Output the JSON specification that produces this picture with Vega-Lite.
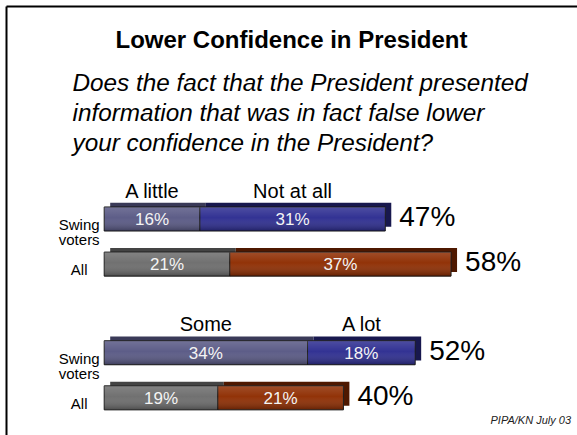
{
  "$schema": "https://vega.github.io/schema/vega-lite/v6.json",
  "width": 577,
  "height": 435,
  "autosize": {"type": "fit", "contains": "padding"},
  "padding": {"left": 6, "top": 6, "right": 0, "bottom": 0},
  "background": "white",
  "config": {"view": {"stroke": null}, "font": "Liberation Sans"},
  "title": {"text": "PIPA/KN July 03", "orient": "bottom", "anchor": "end", "frame": "group", "offset": -20, "dx": -6, "fontSize": 11, "fontStyle": "italic", "fontWeight": "normal", "color": "#222222", "font": "Liberation Sans"},
  "data": {"values": [
    {"q": "Q1", "pop": "Swing voters", "part": 1, "cat": "A little", "value": 16},
    {"q": "Q1", "pop": "Swing voters", "part": 2, "cat": "Not at all", "value": 31},
    {"q": "Q1", "pop": "All", "part": 1, "cat": "A little", "value": 21},
    {"q": "Q1", "pop": "All", "part": 2, "cat": "Not at all", "value": 37},
    {"q": "Q2", "pop": "Swing voters", "part": 1, "cat": "Some", "value": 34},
    {"q": "Q2", "pop": "Swing voters", "part": 2, "cat": "A lot", "value": 18},
    {"q": "Q2", "pop": "All", "part": 1, "cat": "Some", "value": 19},
    {"q": "Q2", "pop": "All", "part": 2, "cat": "A lot", "value": 21}
  ]},
  "transform": [
    {"stack": "value", "groupby": ["q", "pop"], "sort": [{"field": "part", "order": "ascending"}], "as": ["x0", "x1"]},
    {"calculate": "(datum.x0 + datum.x1) / 2", "as": "mid"},
    {"calculate": "datum.pop + ' ' + datum.part", "as": "key"},
    {"calculate": "datum.value + '%'", "as": "pct"}
  ],
  "resolve": {"scale": {"yOffset": "independent"}},
  "layer": [
    {
      "mark": {"type": "bar", "xOffset": 6, "x2Offset": 6},
      "encoding": {
        "x": {"field": "x0", "type": "quantitative",
          "scale": {"domain": [-16.42, 79.06], "nice": false, "zero": false},
          "axis": {"orient": "top", "labels": false, "ticks": false, "grid": false, "domain": true, "domainColor": "#000000", "domainWidth": 2,
            "title": ["Does the fact that the President presented", "information that was in fact false lower", "your confidence in the President?"],
            "titleX": 66, "titleY": 84.7, "titleAlign": "left", "titleBaseline": "alphabetic", "titleAngle": 0,
            "titleFont": "Liberation Sans", "titleFontSize": 24.3, "titleFontStyle": "italic", "titleFontWeight": "normal", "titleLineHeight": 30, "titleColor": "#000000",
            "minExtent": 0, "maxExtent": 0}},
        "x2": {"field": "x1"},
        "y": {"field": "q", "type": "nominal",
          "scale": {"type": "band", "domain": ["Q1", "Q2"], "paddingInner": 0.3, "paddingOuter": 0.754, "align": 0.936},
          "axis": {"orient": "left", "labels": false, "ticks": false, "grid": false, "domain": true, "domainColor": "#000000", "domainWidth": 2,
            "title": "Lower Confidence in President", "titleX": 285, "titleY": 41.3, "titleAngle": 0, "titleAlign": "center", "titleBaseline": "alphabetic",
            "titleFont": "Liberation Sans", "titleFontSize": 24, "titleFontWeight": "bold", "titleColor": "#000000",
            "minExtent": 0, "maxExtent": 0}},
        "yOffset": {"field": "pop", "type": "nominal", "scale": {"domain": ["Swing voters", "All"], "paddingInner": 0.467, "paddingOuter": 0.271, "align": 0.33}},
        "color": {"field": "key", "type": "nominal", "legend": null,
          "scale": {"domain": ["Swing voters 1", "Swing voters 2", "All 1", "All 2"], "range": ["#3a3a58", "#18184e", "#444444", "#4e1800"]}}
      }
    },
    {
      "layer": [
        {
          "mark": {"type": "bar", "stroke": "#1a1a1a", "strokeWidth": 1},
          "encoding": {
            "x": {"field": "x0", "type": "quantitative"},
            "x2": {"field": "x1"},
            "y": {"field": "q", "type": "nominal"},
            "yOffset": {"field": "pop", "type": "nominal", "scale": {"domain": ["Swing voters", "All"], "paddingInner": 0.467, "paddingOuter": 0.271}},
            "fill": {"field": "key", "type": "nominal", "legend": null,
              "scale": {"domain": ["Swing voters 1", "Swing voters 2", "All 1", "All 2"], "range": ["#585884", "#2c2c90", "#6c6c6c", "#8e2c00"]}}
          }
        },
        {
          "mark": {"type": "bar", "fill": {"gradient": "linear", "x1": 0, "y1": 0, "x2": 0, "y2": 1,
            "stops": [{"offset": 0, "color": "rgba(255,255,255,0.16)"}, {"offset": 0.45, "color": "rgba(255,255,255,0.03)"}, {"offset": 1, "color": "rgba(0,0,0,0.3)"}]}},
          "encoding": {
            "x": {"field": "x0", "type": "quantitative"},
            "x2": {"field": "x1"},
            "y": {"field": "q", "type": "nominal"},
            "yOffset": {"field": "pop", "type": "nominal"}
          }
        },
        {
          "mark": {"type": "text", "align": "center", "baseline": "middle", "dy": 1, "fontSize": 17, "color": "#f4f4f4", "font": "Liberation Sans"},
          "encoding": {
            "x": {"field": "mid", "type": "quantitative"},
            "y": {"field": "q", "type": "nominal"},
            "yOffset": {"field": "pop", "type": "nominal"},
            "text": {"field": "pct"}
          }
        },
        {
          "transform": [{"filter": "datum.pop == 'Swing voters'"}],
          "mark": {"type": "text", "align": "center", "baseline": "alphabetic", "dy": -21.5, "fontSize": 20, "color": "#000000", "font": "Liberation Sans"},
          "encoding": {
            "x": {"field": "mid", "type": "quantitative"},
            "y": {"field": "q", "type": "nominal"},
            "yOffset": {"field": "pop", "type": "nominal"},
            "text": {"field": "cat"}
          }
        },
        {
          "transform": [{"aggregate": [{"op": "count", "as": "n"}], "groupby": ["q", "pop"]}],
          "mark": {"type": "text", "align": "center", "baseline": "middle", "dx": -25, "dy": 6, "fontSize": 15, "lineHeight": 15, "lineBreak": " ", "color": "#000000", "font": "Liberation Sans"},
          "encoding": {
            "x": {"datum": 0, "type": "quantitative"},
            "y": {"field": "q", "type": "nominal"},
            "yOffset": {"field": "pop", "type": "nominal"},
            "text": {"field": "pop"}
          }
        },
        {
          "transform": [
            {"aggregate": [{"op": "sum", "field": "value", "as": "total"}], "groupby": ["q", "pop"]},
            {"calculate": "datum.total + '%'", "as": "tlabel"}
          ],
          "mark": {"type": "text", "align": "left", "baseline": "middle", "dx": 14, "dy": -1, "fontSize": 28, "color": "#000000", "font": "Liberation Sans"},
          "encoding": {
            "x": {"field": "total", "type": "quantitative"},
            "y": {"field": "q", "type": "nominal"},
            "yOffset": {"field": "pop", "type": "nominal"},
            "text": {"field": "tlabel"}
          }
        }
      ]
    }
  ]
}
